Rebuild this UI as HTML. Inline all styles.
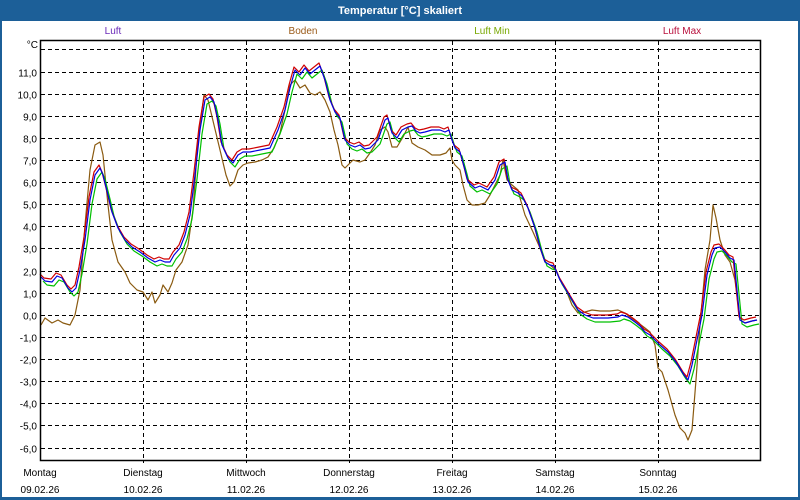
<!DOCTYPE html>
<html><head><meta charset="utf-8"><style>
html,body{margin:0;padding:0;background:#fff;}
body{width:800px;height:500px;overflow:hidden;position:relative;font-family:"Liberation Sans",Tahoma,sans-serif;}
</style></head><body>
<svg id="s" width="800" height="500" xmlns="http://www.w3.org/2000/svg" style="position:absolute;left:0;top:0">
<rect x="0" y="0" width="800" height="500" fill="#1c5f98"/>
<rect x="2" y="21" width="796" height="476" fill="#fff"/>
<text x="400" y="14" fill="#fff" font-size="11" font-weight="bold" text-anchor="middle" font-family="Liberation Sans, sans-serif">Temperatur [°C] skaliert</text>
<g font-size="10" font-family="Liberation Sans, sans-serif" text-anchor="middle">
<text x="113" y="34" fill="#6a2ab8">Luft</text>
<text x="303" y="34" fill="#9a5a18">Boden</text>
<text x="492" y="34" fill="#78a800">Luft Min</text>
<text x="682" y="34" fill="#b8103c">Luft Max</text>
</g>
<g id="grid" stroke="#000" stroke-width="1" stroke-dasharray="4,3" fill="none"></g>
<g id="ylab" font-size="10" font-family="Liberation Sans, sans-serif" text-anchor="end" fill="#000"></g>
<text x="38" y="48" font-size="10" text-anchor="end" font-family="Liberation Sans, sans-serif">°C</text>
<g id="series" fill="none" stroke-width="1.2" stroke-linejoin="round"></g>
<rect x="40.5" y="40.5" width="720" height="420" fill="none" stroke="#000" stroke-width="1.5"/>
<g id="xlab" font-size="10" font-family="Liberation Sans, sans-serif" text-anchor="middle" fill="#000"></g>
</svg>
<script>
var NS="http://www.w3.org/2000/svg";
function el(p,t,a,txt){var e=document.createElementNS(NS,t);for(var k in a)e.setAttribute(k,a[k]);if(txt!=null)e.textContent=txt;document.getElementById(p).appendChild(e);return e;}
function Y(v){return 314.8-v*22.118;}
for(var v=12;v>=-6;v--){var y=Math.round(Y(v))+0.5;el("grid","line",{x1:41,x2:760,y1:y,y2:y});
 if(v<12)el("ylab","text",{x:37,y:y+4},(v.toFixed(1)).replace(".",","));}
for(var i=1;i<7;i++){var x=40+103*i+0.5;el("grid","line",{x1:x,x2:x,y1:41,y2:463});}
var days=["Montag","Dienstag","Mittwoch","Donnerstag","Freitag","Samstag","Sonntag"];
for(var i=0;i<7;i++){var x=40+103*i;el("xlab","text",{x:x,y:476},days[i]);el("xlab","text",{x:x,y:493},(9+i<10?"0":"")+(9+i)+".02.26");}
var blue=[[41,277],[45,281],[52,282],[57,276],[62,278],[68,288],[72,292],[76,288],[80,270],[85,240],[90,200],[95,175],[100,168],[103,175],[108,195],[112,212],[118,228],[125,240],[132,247],[140,252],[148,258],[155,262],[160,260],[165,262],[170,262],[174,255],[180,248],[185,235],[190,215],[195,175],[200,130],[205,100],[210,97],[214,102],[218,120],[222,145],[228,158],[233,163],[238,155],[243,152],[250,152],[260,150],[270,148],[278,130],[285,110],[290,88],[295,70],[300,75],[305,68],[310,74],[315,70],[320,66],[325,80],[330,100],[335,112],[340,118],[345,140],[350,145],[355,147],[360,145],[365,149],[370,148],[378,140],[385,120],[388,118],[392,133],[397,138],[402,130],[408,127],[412,126],[416,131],[420,133],[425,132],[432,130],[440,130],[445,132],[449,130],[452,140],[455,148],[460,152],[465,170],[468,182],[475,188],[480,186],[488,190],[495,180],[500,165],[505,162],[508,180],[512,190],[518,193],[522,196],[528,208],[535,228],[540,247],[545,262],[550,265],[554,266],[560,280],[566,290],[572,300],[578,310],[585,315],[593,318],[600,318],[608,318],[618,317],[622,315],[628,317],[635,322],[640,326],[645,332],[650,335],[655,340],[660,345],[668,352],[676,362],[684,375],[688,380],[692,365],[697,340],[702,315],[707,275],[712,255],[715,248],[720,247],[725,252],[730,258],[734,260],[737,290],[740,320],[745,323],[752,321],[757,320]];
var brown=[[41,325],[45,318],[52,323],[58,320],[63,323],[70,325],[75,315],[80,290],[85,225],[90,170],[95,145],[100,142],[103,155],[108,205],[112,240],[118,262],[125,272],[130,283],[137,290],[143,292],[148,300],[152,292],[155,303],[160,295],[163,285],[168,292],[172,283],[176,270],[182,262],[188,245],[193,210],[198,140],[204,95],[208,100],[214,125],[220,150],[226,175],[230,186],[234,182],[238,170],[243,165],[248,163],[255,162],[262,160],[268,157],[274,148],[280,133],[285,110],[290,85],[295,80],[300,88],[305,85],[310,93],[315,95],[320,92],[325,100],[330,112],[334,130],[338,145],[342,165],[345,168],[348,165],[353,160],[360,162],[365,160],[370,153],[375,145],[380,130],[385,127],[388,132],[392,147],[397,147],[403,137],[408,127],[412,143],[418,147],[425,150],[432,155],[440,155],[446,153],[450,148],[452,160],[455,165],[460,170],[463,185],[467,200],[472,205],[478,205],[485,203],[490,195],[495,185],[500,175],[503,160],[507,180],[512,185],[518,190],[520,198],[525,215],[533,232],[540,248],[545,262],[550,265],[556,270],[560,280],[566,290],[572,305],[578,313],[585,312],[592,310],[600,311],[610,311],[618,310],[625,313],[630,317],[637,322],[645,328],[650,332],[655,345],[658,368],[662,372],[668,390],[675,415],[680,428],[685,433],[688,440],[692,430],[696,380],[700,325],[705,270],[710,240],[713,205],[716,218],[720,240],[725,255],[730,262],[735,280],[740,320],[745,323],[752,321],[757,320]];
function pts(a,dx,dy){return a.map(function(p){return (p[0]+dx)+","+(p[1]+dy);}).join(" ");}
el("series","polyline",{points:pts(brown,0,0),stroke:"#8a5a10"});
el("series","polyline",{points:pts(blue,2,4),stroke:"#00c000"});
el("series","polyline",{points:pts(blue,-1,-3),stroke:"#d00000"});
el("series","polyline",{points:pts(blue,0,0),stroke:"#0000e0"});
</script>
</body></html>
